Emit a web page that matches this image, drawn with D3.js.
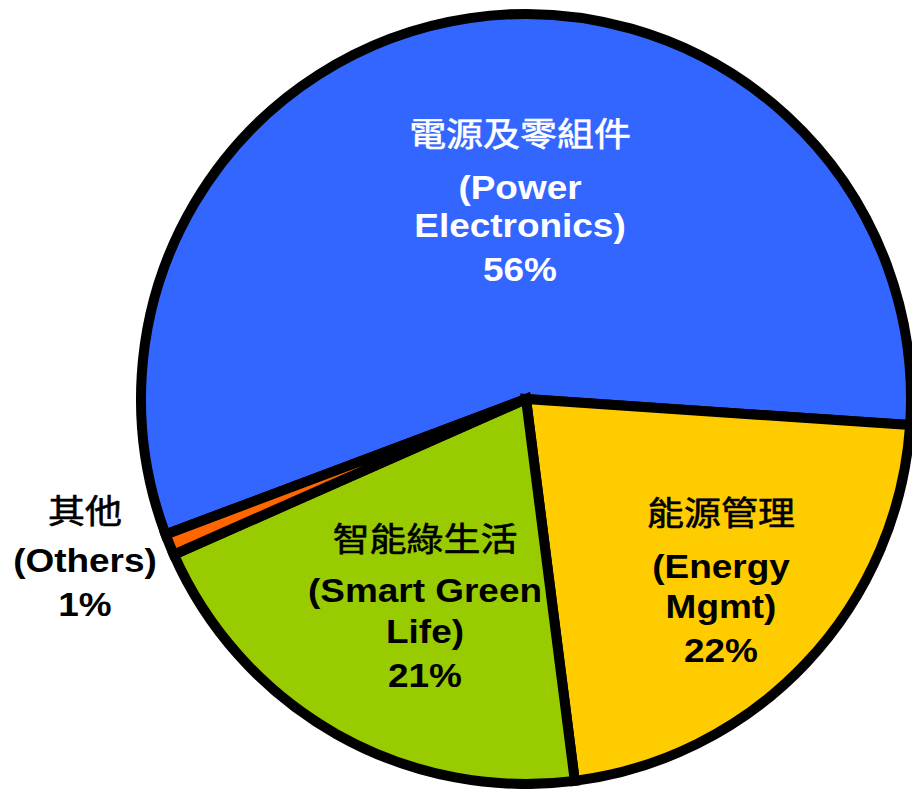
<!DOCTYPE html>
<html lang="zh-Hant">
<head>
<meta charset="utf-8">
<title>pie</title>
<script src="https://d3js.org/d3.v7.min.js"></script>
<style>
  body { margin:0; background:#fff; }
  svg { display:block; }
  .lbl text { font-family: "Liberation Sans", Arial, sans-serif; font-weight: bold; font-size: 33px; text-anchor: middle; }
  .lbl text.zh { font-family: "Noto Sans CJK TC", "Noto Sans CJK SC", sans-serif; font-weight: normal; stroke-width: 0.6px; }
</style>
</head>
<body>
<div id="chart"></div>
<script>
// data
var names_zh = ["電源及零組件", "能源管理", "智能綠生活", "其他"];
var names_en = [["(Power", "Electronics)"], ["(Energy", "Mgmt)"], ["(Smart Green", "Life)"], ["(Others)"]];
var shares = [56.8, 21.9, 20.4, 0.9];
var pctLabels = ["56%", "22%", "21%", "1%"];
var colors = ["#3366FF", "#FFCC00", "#99CC00", "#FF6600"];

var w = 912, h = 789;
var cx = 526, cy = 399, radius = 385;
var startDeg = -110.6;

// label block centre x and the baseline of each line
var labelPos = [
  {x: 520, ys: [146, 199, 237, 281], fill: "#fff"},
  {x: 721, ys: [525, 578, 618, 662], fill: "#000"},
  {x: 425, ys: [551, 602, 643, 687], fill: "#000"},
  {x: 85,  ys: [523, 572, 616],      fill: "#000"}
];

var svg = d3.select("#chart").append("svg")
  .attr("width", w)
  .attr("height", h);

var pie = d3.pie()
  .sort(null)
  .value(function(d) { return d; })
  .startAngle(startDeg * Math.PI / 180)
  .endAngle(startDeg * Math.PI / 180 + 2 * Math.PI);

var arc = d3.arc().innerRadius(0).outerRadius(radius);

var g = svg.append("g").attr("transform", "translate(" + cx + "," + cy + ")");

g.selectAll("path")
  .data(pie(shares))
  .enter()
  .append("path")
  .attr("d", arc)
  .attr("fill", function(d, i) { return colors[i]; })
  .attr("stroke", "#000")
  .attr("stroke-width", 10)
  .attr("stroke-linejoin", "miter");

// labels
labelPos.forEach(function(p, i) {
  var lg = svg.append("g")
    .attr("class", "lbl")
    .attr("transform", "translate(" + p.x + ",0) scale(1.12,1)");
  var lines = [names_zh[i]].concat(names_en[i]).concat([pctLabels[i]]);
  lines.forEach(function(t, j) {
    var tx = lg.append("text")
      .attr("x", 0)
      .attr("y", p.ys[j])
      .attr("fill", p.fill)
      .text(t);
    if (j === 0) tx.attr("class", "zh").attr("stroke", p.fill);
  });
});
</script>
</body>
</html>
